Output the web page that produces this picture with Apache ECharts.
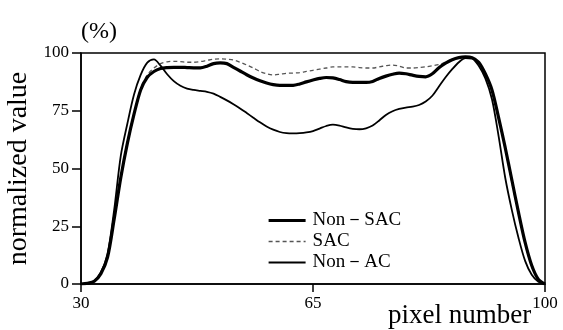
<!DOCTYPE html>
<html><head><meta charset="utf-8">
<script src="https://cdn.jsdelivr.net/npm/echarts@6/dist/echarts.min.js"></script>
<style>html,body{margin:0;padding:0;background:#fff}#c{width:563px;height:330px}</style>
</head><body><div id="c"></div>
<script>
var pixels = [30,31,32,33,34,35,36,37,38,39,40,41,42,43,44,45,46,47,48,49,50,51,52,53,54,55,56,57,58,59,60,61,62,63,64,65,66,67,68,69,70,71,72,73,74,75,76,77,78,79,80,81,82,83,84,85,86,87,88,89,90,91,92,93,94,95,96,97,98,99,100];
var nonSAC = [0,0.3,1.2,4.5,11.5,28,46,61,73.5,84,89.5,92,93.3,93.7,93.8,93.8,93.7,93.6,93.6,94.3,95.4,95.7,95.4,93.8,92.2,90.6,89.2,88,87,86.3,86,86,86,86.6,87.5,88.3,89,89.4,89.2,88.5,87.6,87.3,87.3,87.3,87.7,89,90,90.8,91.3,91,90.4,89.9,89.7,91,93.6,95.6,97.1,98,98.3,98,96,91,84,72,59,45,31,18,8,2,0];
var sac = [0,0.3,1.3,4.8,12,28.5,46.5,61.5,74,84.5,90.5,93.5,95.4,96.2,96.4,96.3,96,96,96.3,96.8,97.3,97.5,97.3,97,96,94.8,93.5,92,91,90.5,90.8,91.2,91.3,91.5,92,92.5,93,93.5,94,94,94,94,93.7,93.5,93.5,94,94.5,94.8,94.3,93.5,93.5,93.7,94,94.5,95,96,97.3,98,98.3,98,96,91.2,84,72,58.5,44,30.5,17.5,7.5,1.8,0];
var nonAC = [0,0.3,1.2,5,13,32,55.5,69.5,82,90.5,95.8,97.2,94.5,90.8,87.8,85.8,84.6,84,83.6,83.2,82.4,81,79.5,77.8,76,74,72,70,68.2,66.8,65.8,65.3,65.2,65.3,65.6,66.2,67.3,68.4,69,68.6,67.8,67.2,67,67.4,68.6,70.8,73.2,74.8,75.8,76.4,76.8,77.5,79,81.5,85.5,89.5,93,96,97.8,97.6,94.5,89,80,64,46,32,20,10,4,1,0];
var seriesNames = ['Non－SAC','SAC','Non－AC'];
var lineWidths = [3.2,1.3,1.8];

function pairs(ys){ return pixels.map(function(x,i){ return [x, ys[i]]; }); }
var serif = '"Liberation Serif","DejaVu Serif",serif';
var chart = echarts.init(document.getElementById('c'));
chart.setOption({
  animation:false,
  backgroundColor:'#fff',
  title:[
    {text:'(%)', left:76, top:15, textStyle:{fontFamily:serif, fontSize:24, fontWeight:'normal', color:'#000'}},
    {text:'pixel number', left:383, top:297, textStyle:{fontFamily:serif, fontSize:27, fontWeight:'normal', color:'#000'}}
  ],
  grid:{left:81, right:18, top:53, bottom:46, show:true, borderColor:'#000', borderWidth:1.5, backgroundColor:'transparent', outerBoundsMode:'none', containLabel:false},
  legend:{
    orient:'vertical', left:262, top:206, itemWidth:37, itemHeight:10, itemGap:2,
    itemStyle:{opacity:0},
    textStyle:{fontFamily:serif, fontSize:19, color:'#000', padding:[0,0,0,2]},
    data:seriesNames.map(function(n,i){ return {name:n, lineStyle:{width:lineWidths[i]}}; })
  },
  xAxis:{
    type:'value', min:30, max:100, interval:35,
    axisLine:{lineStyle:{color:'#000', width:1.5}},
    axisTick:{length:8, lineStyle:{color:'#000', width:1.5}},
    splitLine:{show:false},
    axisLabel:{fontFamily:serif, fontSize:17, color:'#000', margin:11}
  },
  yAxis:{
    type:'value', min:0, max:100, interval:25,
    axisLine:{lineStyle:{color:'#000', width:1.5}},
    axisTick:{length:9, lineStyle:{color:'#000', width:1.5}},
    splitLine:{show:false},
    axisLabel:{fontFamily:serif, fontSize:17, color:'#000', margin:12},
    name:'normalized value', nameLocation:'middle', nameGap:39, nameRotate:90,
    nameTextStyle:{fontFamily:serif, fontSize:28, color:'#000'}
  },
  series:[
    {name:seriesNames[0], type:'line', data:pairs(nonSAC), smooth:0.3, symbol:'none', lineStyle:{color:'#000', width:lineWidths[0]}, itemStyle:{color:'#000'}, z:3},
    {name:seriesNames[1], type:'line', data:pairs(sac), smooth:0.3, symbol:'none', lineStyle:{color:'#555', width:lineWidths[1], type:[4,3]}, itemStyle:{color:'#555'}, z:2},
    {name:seriesNames[2], type:'line', data:pairs(nonAC), smooth:0.3, symbol:'none', lineStyle:{color:'#000', width:lineWidths[2]}, itemStyle:{color:'#000'}, z:4}
  ]
});
</script></body></html>
